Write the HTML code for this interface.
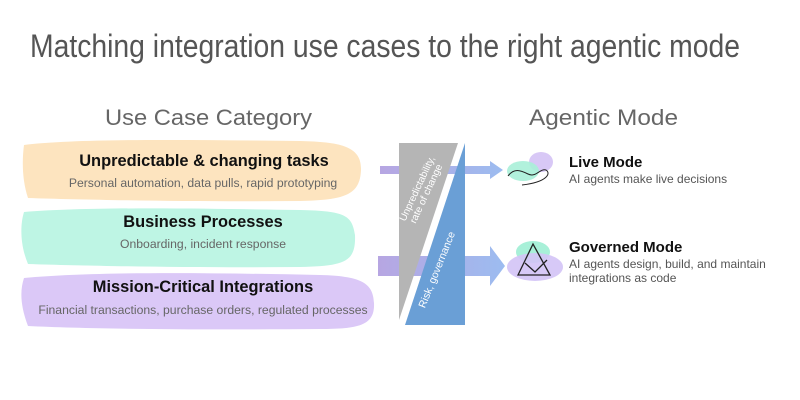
<!DOCTYPE html>
<html><head><meta charset="utf-8"><style>
html,body{margin:0;padding:0;background:#fff;}
svg{display:block;font-family:"Liberation Sans",sans-serif;}
</style></head><body>
<svg width="800" height="400" viewBox="0 0 800 400" xmlns="http://www.w3.org/2000/svg">
<defs>
<linearGradient id="ag" x1="0" x2="1" y1="0" y2="0">
<stop offset="0" stop-color="#b7a6e2"/><stop offset="1" stop-color="#9cbcf0"/>
</linearGradient>
</defs>
<text x="30" y="57" font-size="32" fill="#555" textLength="710" lengthAdjust="spacingAndGlyphs">Matching integration use cases to the right agentic mode</text>
<text x="105" y="125" font-size="22" fill="#666" textLength="207" lengthAdjust="spacingAndGlyphs">Use Case Category</text>
<text x="529" y="125" font-size="22" fill="#666" textLength="149" lengthAdjust="spacingAndGlyphs">Agentic Mode</text>

<path d="M24,145 C80,138 200,140 300,141 C340,142 362,146 361,170 C360,195 345,200 300,201 C200,202 90,200 28,198 C22,180 22,160 24,145Z" fill="#fde4bf"/>
<path d="M24,212 C100,206 220,209 300,210 C345,211 352,215 355,235 C356,262 345,266 300,267 C200,268 90,266 28,264 C20,245 20,225 24,212Z" fill="#bef5e4"/>
<path d="M24,278 C100,271 220,273 320,275 C365,276 373,285 374,303 C375,325 360,329 320,329 C200,330 90,329 28,326 C20,305 20,290 24,278Z" fill="#dbc8f7"/>

<text x="204" y="166" font-size="16.4" font-weight="bold" text-anchor="middle" fill="#111">Unpredictable &amp; changing tasks</text>
<text x="203" y="187" font-size="12.2" text-anchor="middle" fill="#666">Personal automation, data pulls, rapid prototyping</text>
<text x="203" y="227" font-size="16.4" font-weight="bold" text-anchor="middle" fill="#111">Business Processes</text>
<text x="203" y="248" font-size="12.2" text-anchor="middle" fill="#666">Onboarding, incident response</text>
<text x="203" y="292" font-size="16.4" font-weight="bold" text-anchor="middle" fill="#111">Mission-Critical Integrations</text>
<text x="203" y="314" font-size="12.2" text-anchor="middle" fill="#666">Financial transactions, purchase orders, regulated processes</text>

<path d="M380,166 L490,166 L490,161 L503,170 L490,179 L490,174 L380,174Z" fill="url(#ag)"/>
<path d="M378,256 L490,256 L490,246 L505,266 L490,286 L490,276 L378,276Z" fill="url(#ag)"/>

<polygon points="399,143 458,143 399,320" fill="#b5b5b5"/>
<polygon points="465,143 465,325 405,325" fill="#6a9fd6"/>
<text transform="translate(420,190) rotate(-65)" font-size="10" fill="#fff" text-anchor="middle">Unpredictability,</text>
<text transform="translate(429,195) rotate(-65)" font-size="10" fill="#fff" text-anchor="middle">rate of change</text>
<text transform="translate(440,271) rotate(-68)" font-size="10.5" fill="#fff" text-anchor="middle">Risk, governance</text>

<ellipse cx="541" cy="162" rx="12" ry="10" fill="#d8c8f6"/>
<ellipse cx="523" cy="171" rx="16" ry="10" fill="#a8f0d8" opacity="0.9"/>
<path d="M508,176 C514,168 520,170 528,174 C536,178 540,168 546,170 C551,173 548,182 522,185" fill="none" stroke="#222" stroke-width="1"/>
<ellipse cx="533" cy="252" rx="17" ry="11" fill="#a8f0d8"/>
<ellipse cx="535" cy="267" rx="28" ry="14" fill="#d3c3f6" opacity="0.9"/>
<path d="M518,275 L533,244 L550,275Z M525,263 L535,272 L547,260" fill="none" stroke="#222" stroke-width="1.3"/>

<text x="569" y="167" font-size="15" font-weight="bold" fill="#111">Live Mode</text>
<text x="569" y="183" font-size="12" fill="#555">AI agents make live decisions</text>
<text x="569" y="252" font-size="15" font-weight="bold" fill="#111">Governed Mode</text>
<text x="569" y="268" font-size="12" fill="#555">AI agents design, build, and maintain</text>
<text x="569" y="282" font-size="12" fill="#555">integrations as code</text>
</svg>
</body></html>
